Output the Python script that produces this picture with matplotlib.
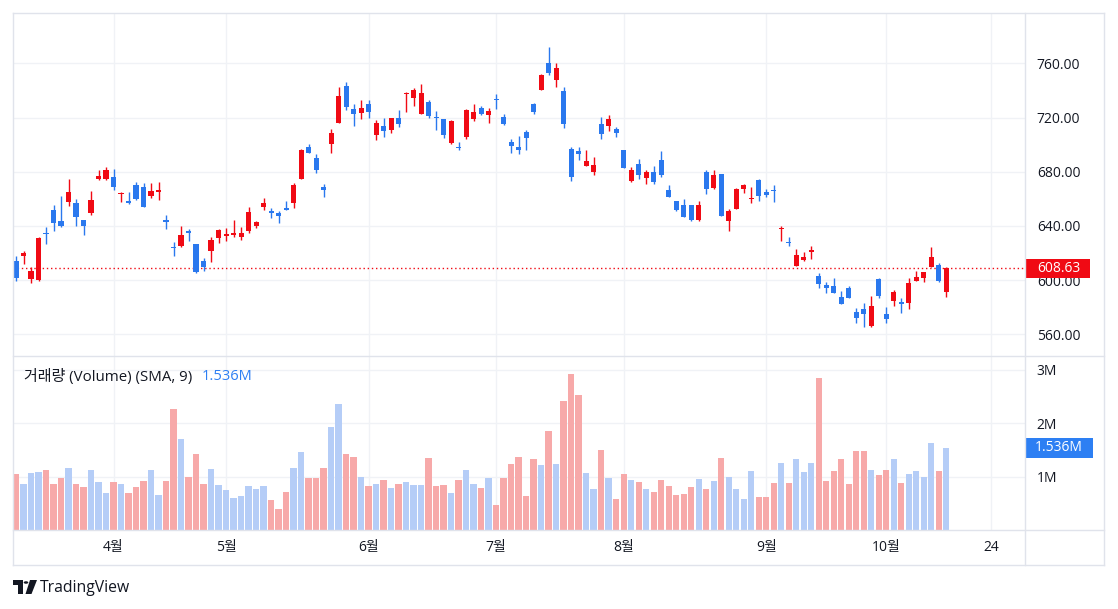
import numpy as np
import matplotlib
matplotlib.use("Agg")
import matplotlib.pyplot as plt
import matplotlib.transforms as mtransforms
from matplotlib.lines import Line2D
from matplotlib.patches import Rectangle, Polygon, Circle

plt.rcParams['font.family'] = ['Open Sans', 'Noto Sans CJK KR', 'DejaVu Sans']

# x축 (월 시작 봉 인덱스)
month_labels = ["4월", "5월", "6월", "7월", "8월", "9월", "10월", "24"]
month_pos = [13, 28, 47, 64, 81, 100, 116, 130]

# 일봉 OHLC
opens = [614.3, 617.5, 600.5, 600.2, 634.3, 652.1, 643.4, 657.5, 656.8, 644.7,
         649.4, 674.3, 674.3, 675.8, 663.7, 658.7, 669.9, 669.1, 662.0, 664.9,
         644.7, 624.7, 624.9, 636.3, 626.6, 614.0, 621.2, 631.1, 632.3, 633.6,
         631.6, 636.5, 640.0, 653.8, 651.3, 649.8, 653.1, 656.8, 674.5, 698.0,
         690.3, 668.4, 700.2, 716.0, 743.2, 726.6, 723.4, 729.9, 707.4, 713.6,
         710.6, 720.0, 737.7, 734.5, 722.7, 731.3, 720.5, 718.8, 701.2, 698.0,
         705.6, 719.0, 727.4, 722.0, 734.0, 720.7, 702.0, 698.3, 709.4, 729.9,
         740.2, 760.0, 747.6, 739.5, 697.0, 695.0, 684.2, 679.7, 715.0, 713.8,
         711.3, 695.8, 673.5, 685.4, 675.3, 680.2, 688.4, 666.9, 658.2, 655.8,
         655.8, 644.7, 679.7, 667.9, 678.0, 643.4, 652.6, 667.4, 660.0, 674.0,
         665.4, 666.2, 637.9, 628.4, 610.6, 614.8, 620.5, 602.9, 596.5, 595.8,
         587.6, 594.5, 576.5, 578.5, 566.1, 600.7, 574.8, 584.2, 583.9, 583.4,
         599.5, 601.2, 609.4, 611.1, 590.9]
highs = [618.0, 621.2, 609.4, 631.6, 639.0, 655.8, 662.0, 674.3, 660.0, 644.7,
         665.7, 681.0, 683.4, 681.7, 665.4, 665.4, 672.8, 671.8, 671.6, 672.8,
         648.4, 628.4, 640.0, 637.5, 627.0, 616.0, 631.6, 637.8, 638.2, 644.7,
         639.5, 654.3, 644.0, 660.5, 653.1, 651.3, 658.3, 671.6, 697.0, 700.2,
         693.3, 671.3, 711.3, 742.7, 746.4, 729.9, 732.8, 732.8, 718.0, 720.0,
         720.0, 725.4, 739.0, 741.9, 745.2, 732.8, 724.9, 718.8, 718.0, 702.0,
         726.6, 729.9, 728.9, 727.1, 737.8, 722.4, 704.2, 706.1, 710.6, 730.8,
         752.1, 772.3, 760.5, 742.7, 698.2, 698.2, 695.8, 690.8, 720.5, 722.0,
         713.0, 695.8, 683.4, 689.1, 681.4, 683.9, 695.3, 669.9, 658.7, 659.7,
         655.8, 658.7, 681.0, 681.0, 678.0, 652.6, 668.1, 671.1, 669.1, 674.8,
         667.4, 669.9, 640.2, 631.6, 622.9, 620.5, 625.4, 605.4, 598.7, 601.2,
         591.6, 595.3, 579.7, 582.7, 588.4, 601.5, 580.2, 592.6, 587.1, 601.2,
         606.9, 606.1, 624.7, 612.8, 609.4]
lows = [599.5, 611.8, 597.5, 599.5, 626.6, 636.0, 639.5, 655.0, 640.2, 633.1,
        648.4, 674.0, 674.0, 666.2, 657.5, 656.3, 659.2, 653.8, 660.3, 659.5,
        637.5, 617.5, 624.2, 628.6, 605.0, 606.4, 613.0, 627.1, 629.1, 631.6,
        629.9, 634.5, 638.7, 651.8, 645.7, 642.4, 651.6, 653.3, 674.5, 694.0,
        679.0, 661.7, 693.8, 716.0, 725.9, 714.0, 719.0, 719.7, 703.7, 705.6,
        708.6, 713.1, 724.2, 728.6, 722.7, 720.0, 710.6, 704.9, 700.5, 695.8,
        704.2, 717.3, 722.0, 716.0, 726.1, 714.3, 693.8, 693.3, 695.8, 722.4,
        740.2, 751.8, 742.7, 712.6, 673.5, 688.9, 684.2, 677.3, 704.4, 710.1,
        705.6, 682.7, 672.8, 674.8, 671.1, 671.1, 676.5, 661.2, 650.8, 646.4,
        643.4, 643.4, 663.7, 667.4, 647.6, 636.0, 652.6, 664.2, 656.8, 658.2,
        661.7, 657.5, 629.1, 625.4, 610.6, 614.3, 615.5, 594.5, 590.1, 590.1,
        582.2, 586.6, 568.6, 565.4, 565.4, 587.1, 568.6, 581.0, 576.0, 578.5,
        599.0, 598.2, 609.4, 598.2, 587.6]
closes = [601.2, 620.2, 606.9, 630.8, 633.8, 642.0, 640.2, 664.7, 646.9, 639.7,
          659.5, 676.8, 681.0, 668.6, 664.2, 656.8, 659.7, 654.3, 665.6, 666.2,
          643.2, 623.7, 633.3, 634.8, 605.7, 609.4, 629.8, 637.1, 634.3, 635.0,
          634.8, 650.6, 643.2, 657.3, 649.8, 647.1, 651.6, 670.6, 695.8, 694.0,
          681.4, 666.9, 708.6, 736.0, 727.9, 723.0, 726.9, 724.2, 716.3, 710.1,
          720.0, 715.5, 738.2, 740.2, 738.5, 721.0, 719.5, 707.1, 717.3, 697.6,
          725.4, 724.0, 723.0, 724.7, 733.3, 715.5, 699.0, 696.3, 704.7, 724.0,
          751.3, 753.1, 757.0, 715.0, 676.0, 693.3, 687.6, 684.7, 708.1, 718.7,
          708.6, 682.7, 681.0, 677.8, 679.7, 672.3, 677.3, 661.2, 651.8, 646.4,
          644.4, 655.8, 667.4, 677.3, 647.6, 651.3, 667.4, 669.9, 660.7, 662.2,
          663.2, 665.7, 638.4, 627.6, 618.7, 617.3, 622.4, 597.0, 593.8, 590.1,
          582.2, 587.1, 572.3, 574.8, 581.0, 588.4, 571.1, 591.3, 582.0, 597.8,
          602.4, 606.1, 617.3, 599.5, 608.63]

# 거래량 (백만)
volumes = [1.04, 0.86, 1.06, 1.08, 1.12, 0.86, 0.97, 1.17, 0.86, 0.80,
           1.12, 0.89, 0.69, 0.89, 0.86, 0.69, 0.80, 0.91, 1.12, 0.65,
           0.91, 2.26, 1.70, 0.99, 1.42, 0.86, 1.14, 0.84, 0.74, 0.59,
           0.63, 0.82, 0.76, 0.82, 0.57, 0.39, 0.72, 1.17, 1.46, 0.97,
           0.97, 1.17, 1.93, 2.36, 1.42, 1.36, 1.00, 0.82, 0.86, 0.93,
           0.78, 0.87, 0.89, 0.84, 0.84, 1.34, 0.82, 0.84, 0.70, 0.93,
           1.12, 0.87, 0.78, 0.97, 0.46, 0.98, 1.24, 1.37, 0.64, 1.33,
           1.22, 1.86, 1.24, 2.42, 2.93, 2.53, 1.07, 0.77, 1.50, 0.97,
           0.58, 1.05, 0.94, 0.90, 0.77, 0.71, 0.94, 0.83, 0.66, 0.68,
           0.81, 0.96, 0.77, 0.92, 1.35, 0.99, 0.77, 0.58, 1.11, 0.62,
           0.62, 0.88, 1.26, 0.88, 1.33, 1.09, 1.26, 2.85, 0.92, 1.11,
           1.33, 0.86, 1.48, 1.48, 1.125, 1.03, 1.125, 1.33, 0.88, 1.05,
           1.11, 0.99, 1.63, 1.11, 1.536]

price_ticks = [560, 600, 640, 680, 720, 760]
vol_ticks = [1, 2, 3]
vol_tick_labels = ["1M", "2M", "3M"]

RED = '#f00a14'
BLUE = '#2a78ee'
VRED = '#f7a9a9'
VBLUE = '#b5cdf7'
VLABEL = '#2d7ff3'
TXT = '#131722'
GRID = '#f0f2f6'
FRAME = '#e0e3eb'
FS = 10

W, H = 1118, 609
fig = plt.figure(figsize=(W / 100, H / 100), dpi=100)


def fx(px):
    return px / W


def fy(py):
    return 1 - py / H


ax = fig.add_axes([fx(13), fy(356), fx(1025) - fx(13), fy(13) - fy(356)])
axv = fig.add_axes([fx(13), fy(530), fx(1025) - fx(13), fy(357) - fy(530)], sharex=ax)

x = np.arange(len(opens))
o = np.array(opens)
h = np.array(highs)
l = np.array(lows)
c = np.array(closes)
up = c >= o
cols = np.where(up, RED, BLUE)

# 캔들
ax.vlines(x, l, h, colors=cols, linewidth=1, zorder=3)
ax.bar(x, np.maximum(np.abs(c - o), 0.7), bottom=np.minimum(o, c), width=0.68,
       color=cols, linewidth=0, zorder=4)

# 거래량 (상승=파랑, 하락=빨강)
axv.bar(x, volumes, width=0.84, color=np.where(up, VBLUE, VRED), linewidth=0, zorder=3)

ax.set_xlim(-0.4, 134.5)
ax.set_ylim(543.9, 797.3)
axv.set_ylim(0, 3.24)

for a in (ax, axv):
    for s in a.spines.values():
        s.set_visible(False)
    a.set_facecolor('white')
    a.grid(True, color=GRID, linewidth=1, zorder=0)
    a.set_axisbelow(True)
    a.yaxis.tick_right()
    a.tick_params(axis='y', length=0, pad=8.5, labelsize=FS, labelcolor=TXT)
    a.tick_params(axis='x', length=0)

ax.set_xticks(month_pos)
ax.tick_params(axis='x', labelbottom=False)
ax.set_yticks(price_ticks, [f"{p:.2f}" for p in price_ticks])
axv.set_yticks(vol_ticks, vol_tick_labels)
axv.set_xticks(month_pos, month_labels)
axv.tick_params(axis='x', pad=7.5, labelsize=FS, labelcolor=TXT)

# 현재가 라인과 라벨
last_price = closes[-1]
last_vol = volumes[-1]
ax.axhline(last_price, color=RED, linestyle=(0, (1, 2)), linewidth=1, zorder=2)

tr_p = mtransforms.blended_transform_factory(fig.transFigure, ax.transData)
half_p = 9.5 * (ax.get_ylim()[1] - ax.get_ylim()[0]) / 343
ax.add_patch(Rectangle((fx(1026), last_price - half_p), fx(64), 2 * half_p,
                       transform=tr_p, facecolor=RED, edgecolor='none',
                       clip_on=False, zorder=10))
ax.text(fx(1059), last_price, f"{last_price:.2f}", transform=tr_p, ha='center',
        va='center', color='white', fontsize=FS, zorder=11, clip_on=False)

tr_v = mtransforms.blended_transform_factory(fig.transFigure, axv.transData)
half_v = 10 * 3.24 / 173
axv.add_patch(Rectangle((fx(1025), last_vol - half_v), fx(68), 2 * half_v,
                        transform=tr_v, facecolor=VLABEL, edgecolor='none',
                        clip_on=False, zorder=10))
axv.text(fx(1059), last_vol, f"{last_vol:.3f}M", transform=tr_v, ha='center',
         va='center', color='white', fontsize=FS, zorder=11, clip_on=False)

# 범례
fig.text(fx(24), fy(377), "거래량 (Volume) (SMA, 9)", color=TXT, fontsize=10.8,
         va='center', ha='left')
fig.text(fx(202), fy(377), f"{last_vol:.3f}M", color=VLABEL, fontsize=10.5,
         va='center', ha='left')


# 테두리
def hline(y, x0=13, x1=1104):
    fig.add_artist(Line2D([fx(x0), fx(x1)], [fy(y), fy(y)], color=FRAME, linewidth=1))


def vline(xp, y0=13, y1=565):
    fig.add_artist(Line2D([fx(xp), fx(xp)], [fy(y0), fy(y1)], color=FRAME, linewidth=1))


hline(13)
hline(356)
hline(530)
hline(565)
vline(13)
vline(1025)
vline(1104)

# TradingView 로고
fig.add_artist(Polygon([(fx(13), fy(580)), (fx(23), fy(580)), (fx(23), fy(594)),
                        (fx(18), fy(594)), (fx(18), fy(585)), (fx(13), fy(585))],
                       closed=True, facecolor=TXT, edgecolor='none'))
fig.add_artist(Circle((fx(26), fy(582.5)), 2.3 / W, facecolor=TXT, edgecolor='none'))
fig.add_artist(Polygon([(fx(30), fy(580)), (fx(37), fy(580)), (fx(31.5), fy(594)),
                        (fx(25.5), fy(594))],
                       closed=True, facecolor=TXT, edgecolor='none'))
fig.text(fx(40), fy(587.5), "TradingView", color=TXT, fontsize=11.3,
         va='center', ha='left')

fig.savefig("out.png", dpi=100, facecolor='white')
